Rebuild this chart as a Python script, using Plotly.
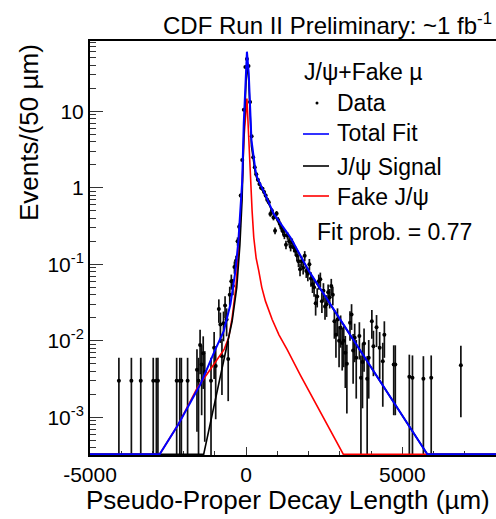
import plotly.graph_objects as go

# ---------------- data ----------------
data_x = [-4075, -3675, -3375, -2975, -2875, -2825, -2225, -2125, -2075, -1875,
          -1575, -1525, -1475, -1425, -1375, -1325, -1125, -1025, -975, -875,
          -825, -775, -725, -675, -625, -575, -525, -475, -425, -375,
          -325, -275, -225, -175, -125, -75, -25, 25, 75, 125,
          175, 225, 275, 325, 375, 425, 475, 525, 575, 625,
          675, 725, 775, 825, 875, 925, 975, 1025, 1075, 1125,
          1175, 1225, 1275, 1325, 1375, 1425, 1475, 1525, 1575, 1625,
          1675, 1725, 1775, 1825, 1875, 1925, 1975, 2025, 2075, 2125,
          2175, 2225, 2275, 2325, 2375, 2425, 2475, 2525, 2575, 2625,
          2675, 2725, 2775, 2825, 2875, 2925, 2975, 3025, 3075, 3125,
          3175, 3225, 3325, 3375, 3425, 3475, 3525, 3625, 3675, 3725,
          3775, 3875, 3925, 4025, 4075, 4175, 4275, 4375, 4425, 4725,
          4775, 5225, 5325, 5675, 5925, 6875]
data_y = [0.003, 0.003, 0.003, 0.003, 0.003, 0.003, 0.003, 0.003, 0.003, 0.003,
          0.0042, 0.003, 0.0088, 0.0049, 0.0069, 0.0039, 0.003, 0.0081, 0.0047, 0.026,
          0.0164, 0.0063, 0.017, 0.029, 0.019, 0.0058, 0.04, 0.06, 0.052, 0.092,
          0.111, 0.2, 0.31, 0.79, 2.3, 10.5, 38, 48, 39, 13.2,
          4.7, 2.5, 1.86, 1.5, 1.27, 1.12, 1.0, 0.97, 0.88, 0.79,
          0.7, 0.645, 0.455, 0.5, 0.41, 0.275, 0.46, 0.38, 0.34, 0.3,
          0.27, 0.24, 0.18, 0.236, 0.2, 0.17, 0.193, 0.166, 0.15, 0.13,
          0.11, 0.086, 0.11, 0.09, 0.129, 0.082, 0.075, 0.1, 0.065, 0.055,
          0.05, 0.031, 0.038, 0.06, 0.064, 0.033, 0.045, 0.028, 0.03, 0.043,
          0.037, 0.052, 0.04, 0.018, 0.012, 0.019, 0.01, 0.0148, 0.0094, 0.01,
          0.007, 0.005, 0.0172, 0.022, 0.0075, 0.011, 0.006, 0.0116, 0.0033, 0.0053,
          0.0092, 0.0032, 0.006, 0.018, 0.0085, 0.015, 0.0081, 0.0054, 0.012, 0.0049,
          0.0049, 0.0034, 0.0033, 0.0032, 0.0033, 0.0048]
one_event = 0.003  # weight of a single event (Poisson error scale)

floor_y = 3.3e-4   # curves drawn at the frame minimum

total_x = [-5000, -2769, -2179, -1465, -1000, -718, -503, -343, -250, -160,
           -128, -77, 25, 83, 170, 298, 352, 618, 885, 1420, 2007, 5801, 8000]
total_y = [floor_y, floor_y, 8e-4, 0.0027, 0.0075, 0.0134, 0.03, 0.082, 0.2, 0.65,
           1.2, 6.9, 60, 31, 4.2, 1.68, 1.37, 0.8, 0.455, 0.224, 0.082, floor_y, floor_y]

signal_x = [-5000, -1359, -449, -300, -200, -130, -77, 25, 83, 170,
            298, 352, 618, 885, 1420, 2007, 5801, 8000]
signal_y = [floor_y, floor_y, 0.018, 0.05, 0.18, 0.7, 4.5, 45, 25, 3.5,
            1.5, 1.3, 0.77, 0.44, 0.22, 0.081, floor_y, floor_y]

fake_x = [-5000, -2769, -2179, -1571, -1038, -700, -560, -450, -330, -220,
          -130, -70, 25, 70, 138, 190, 244, 320, 404, 500,
          618, 833, 1050, 1314, 1731, 3109, 8000]
fake_y = [floor_y, floor_y, 8e-4, 0.0024, 0.0049, 0.0078, 0.011, 0.02, 0.05, 0.2,
          1.0, 4.5, 14.7, 5, 1.3, 0.5, 0.224, 0.12, 0.082, 0.05,
          0.033, 0.019, 0.012, 0.0077, 0.0036, floor_y, floor_y]

x_major = [-5000, 0, 5000]
x_minor = [-4000, -3000, -2000, -1000, 1000, 2000, 3000, 4000, 6000, 7000, 8000]
y_major = [0.001, 0.01, 0.1, 1, 10]
y_major_text = ["10<sup>-3</sup>", "10<sup>-2</sup>", "10<sup>-1</sup>", "1", "10"]
y_minor = [m * 10.0 ** e for e in range(-4, 2) for m in range(2, 10)]

# ---------------- figure ----------------
W, H = 496, 519
L, R, T, B = 90, 0, 41, 64
pw, ph = W - L - R, H - T - B


def px(x):
    return (x - L) / pw


def py(y):
    return (H - B - y) / ph


FONT = "Liberation Sans, Arial, Helvetica, sans-serif"

err_plus = [(v * one_event) ** 0.5 for v in data_y]
err_minus = [min(e, v * 0.999) for e, v in zip(err_plus, data_y)]

fig = go.Figure()
fig.add_trace(go.Scatter(
    x=data_x, y=data_y, mode="markers",
    marker=dict(color="black", size=4),
    error_y=dict(type="data", array=err_plus, arrayminus=err_minus,
                 color="#111111", thickness=1.7, width=0),
    showlegend=False, hoverinfo="skip"))
fig.add_trace(go.Scatter(x=fake_x, y=fake_y, mode="lines",
                         line=dict(color="#ff0000", width=1.6), showlegend=False))
fig.add_trace(go.Scatter(x=signal_x, y=signal_y, mode="lines",
                         line=dict(color="black", width=1.6), showlegend=False))
fig.add_trace(go.Scatter(x=total_x, y=total_y, mode="lines",
                         line=dict(color="#0000ff", width=2), showlegend=False))

fig.update_layout(
    width=W, height=H, margin=dict(l=L, r=R, t=T, b=B, pad=0),
    paper_bgcolor="white", plot_bgcolor="white",
    font=dict(family=FONT, color="black"),
    xaxis=dict(range=[-5000, 8000], showgrid=False, zeroline=False,
               showline=True, linecolor="black", linewidth=2, mirror=True,
               layer="below traces",
               tickmode="array", tickvals=x_major, ticktext=["-5000", "0", "5000"],
               ticks="inside", ticklen=8, tickwidth=1, tickcolor="#333",
               tickfont=dict(size=21, family=FONT),
               minor=dict(tickvals=x_minor, ticks="inside", ticklen=4,
                          tickwidth=1, tickcolor="#333")),
    yaxis=dict(type="log", range=[-3.492, 1.918], showgrid=False, zeroline=False,
               showline=True, linecolor="black", linewidth=2, mirror=False,
               layer="below traces",
               tickmode="array", tickvals=y_major, ticktext=y_major_text,
               ticks="inside", ticklen=13, tickwidth=1, tickcolor="#333",
               tickfont=dict(size=21, family=FONT),
               minor=dict(tickvals=y_minor, ticks="inside", ticklen=6,
                          tickwidth=1, tickcolor="#333")),
)

ann = []
ann.append(dict(text="CDF Run II Preliminary: ~1 fb<sup>-1</sup>", xref="paper", yref="paper",
                x=px(494), y=py(24), xanchor="right", yanchor="middle", showarrow=False,
                font=dict(size=24, family=FONT)))
ann.append(dict(text="Events/(50 \u00b5m)", xref="paper", yref="paper", textangle=-90,
                x=px(29), y=py(132), xanchor="center", yanchor="middle", showarrow=False,
                font=dict(size=26, family=FONT)))
ann.append(dict(text="Pseudo-Proper Decay Length (\u00b5m)", xref="paper", yref="paper",
                x=px(492), y=py(500), xanchor="right", yanchor="middle", showarrow=False,
                font=dict(size=26, family=FONT)))
leg_font = dict(size=23, family=FONT)
ann.append(dict(text="J/\u03c8+Fake \u00b5", xref="paper", yref="paper", x=px(302), y=py(72),
                xanchor="left", yanchor="middle", showarrow=False, font=leg_font))
for label, yy in [("Data", 103), ("Total Fit", 133), ("J/\u03c8 Signal", 167), ("Fake J/\u03c8", 197)]:
    ann.append(dict(text=label, xref="paper", yref="paper", x=px(335), y=py(yy),
                    xanchor="left", yanchor="middle", showarrow=False, font=leg_font))
ann.append(dict(text="Fit prob. = 0.77", xref="paper", yref="paper", x=px(315), y=py(232),
                xanchor="left", yanchor="middle", showarrow=False, font=leg_font))
fig.update_layout(annotations=ann)

shapes = []
shapes.append(dict(type="circle", xref="paper", yref="paper",
                   x0=px(315.5), x1=px(318.5), y0=py(104.5), y1=py(101.5),
                   fillcolor="black", line=dict(width=0)))
for col, yy in [("#0000ff", 134), ("black", 166), ("#ff0000", 196)]:
    shapes.append(dict(type="line", xref="paper", yref="paper",
                       x0=px(303), x1=px(329), y0=py(yy), y1=py(yy),
                       line=dict(color=col, width=1.6)))
fig.update_layout(shapes=shapes)

fig.write_html("out.html", config={"displayModeBar": False},
               post_script="document.body.style.margin='0';document.body.style.overflow='hidden';")
